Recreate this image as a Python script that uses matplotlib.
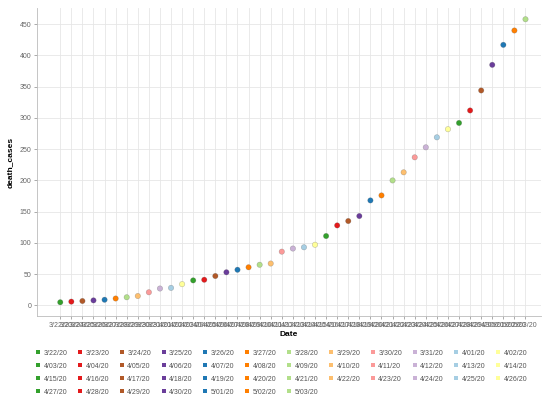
import matplotlib
matplotlib.use("Agg")
import matplotlib.pyplot as plt
from matplotlib.lines import Line2D

plt.rcParams['font.family'] = ['Liberation Sans', 'DejaVu Sans']

dates = ["3/22/20", "3/23/20", "3/24/20", "3/25/20", "3/26/20", "3/27/20", "3/28/20",
         "3/29/20", "3/30/20", "3/31/20", "4/01/20", "4/02/20", "4/03/20", "4/04/20",
         "4/05/20", "4/06/20", "4/07/20", "4/08/20", "4/09/20", "4/10/20", "4/11/20",
         "4/12/20", "4/13/20", "4/14/20", "4/15/20", "4/16/20", "4/17/20", "4/18/20",
         "4/19/20", "4/20/20", "4/21/20", "4/22/20", "4/23/20", "4/24/20", "4/25/20",
         "4/26/20", "4/27/20", "4/28/20", "4/29/20", "4/30/20", "5/01/20", "5/02/20",
         "5/03/20"]
death_cases = [5, 6, 7, 8, 9, 11, 13, 15, 21, 27, 28, 34, 40, 41, 47, 53, 57, 61, 65, 67,
               86, 91, 93, 97, 111, 128, 135, 143, 168, 176, 200, 213, 237, 253, 269,
               282, 292, 312, 344, 385, 417, 440, 458]
palette = ["#33a02c", "#e31a1c", "#b15928", "#6a3d9a", "#1f78b4", "#ff7f00",
           "#b2df8a", "#fdbf6f", "#fb9a99", "#cab2d6", "#a6cee3", "#ffff99"]
y_ticks = [0, 50, 100, 150, 200, 250, 300, 350, 400, 450]

W, H = 545, 403
fig = plt.figure(figsize=(W / 100, H / 100), dpi=100)
ax = fig.add_axes([37 / W, (H - 316) / H, (541 - 37) / W, (316 - 8) / H])

x = list(range(len(dates)))
colors = [palette[i % len(palette)] for i in x]
ax.scatter(x, death_cases, c=colors, s=15, linewidths=0.4,
           edgecolors=[(0.3, 0.3, 0.3, 0.35)] * len(x), zorder=3)

ax.set_xlim(-2.1, 43.4)
ax.set_ylim(-17, 476)
ax.set_xticks(x)
ax.set_xticklabels(dates, fontsize=5, color="#666666")
ax.set_yticks(y_ticks)
ax.set_yticklabels([str(v) for v in y_ticks], fontsize=5, color="#666666")
ax.tick_params(axis='both', length=2, width=0.5, color="#888888", pad=2)
ax.grid(True, color="#e6e6e6", linewidth=0.6, zorder=0)
ax.set_axisbelow(True)
for s in ['top', 'right']:
    ax.spines[s].set_visible(False)
for s in ['left', 'bottom']:
    ax.spines[s].set_color("#bbbbbb")
    ax.spines[s].set_linewidth(0.6)

ax.set_xlabel("Date", fontsize=6, fontweight='bold', labelpad=2)
ax.set_ylabel("death_cases", fontsize=6, fontweight='bold', labelpad=4)

handles = [Line2D([], [], marker='s', linestyle='None', markersize=3,
                  markerfacecolor=colors[i], markeredgewidth=0, label=dates[i])
           for i in x]
ncol = 12
order = []
for j in range(ncol):
    for r in range(4):
        k = r * ncol + j
        if k < len(dates):
            order.append(k)
fig.legend([handles[k] for k in order], [dates[k] for k in order],
           ncol=ncol, loc='upper left', bbox_to_anchor=(31 / W, (H - 345) / H),
           frameon=False, fontsize=5, handlelength=0.6, handletextpad=0.5,
           columnspacing=1.5, labelspacing=0.85, borderpad=0.2,
           labelcolor="#555555")

fig.savefig("out.png", dpi=100)
